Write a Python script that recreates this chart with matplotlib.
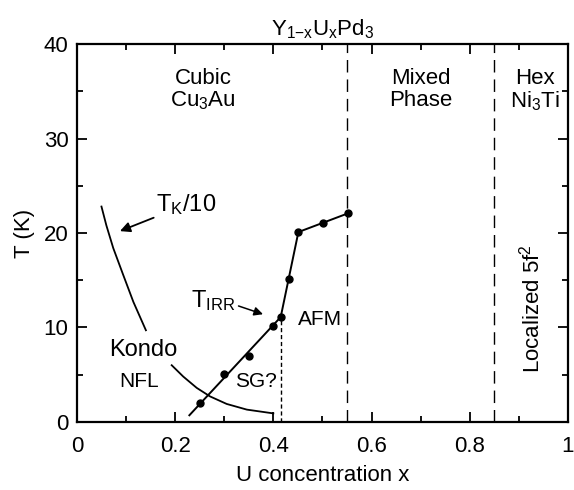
import matplotlib
matplotlib.use("Agg")
import matplotlib.pyplot as plt
from matplotlib.ticker import MultipleLocator

plt.rcParams['font.family'] = ['Liberation Sans', 'DejaVu Sans']
plt.rcParams['mathtext.fontset'] = 'custom'
plt.rcParams['mathtext.rm'] = 'Liberation Sans'
plt.rcParams['mathtext.it'] = 'Liberation Sans'

# T_IRR data points
x_irr = [0.25, 0.30, 0.35, 0.40, 0.415, 0.431, 0.451, 0.502, 0.553]
t_irr = [2.0, 5.1, 7.0, 10.1, 11.1, 15.1, 20.1, 21.1, 22.1]

# guide line through the points (extended below the first point)
x_line = [0.229, 0.415, 0.431, 0.451, 0.502, 0.553]
t_line = [0.7, 11.1, 15.1, 20.1, 21.1, 22.1]

# T_K/10 curve (upper and lower segments, broken by the "Kondo" label)
x_tk_hi = [0.050, 0.060, 0.074, 0.094, 0.115, 0.1405]
t_tk_hi = [22.8, 20.8, 18.4, 15.6, 12.7, 9.7]
x_tk_lo = [0.193, 0.2165, 0.244, 0.271, 0.305, 0.346, 0.40]
t_tk_lo = [6.0, 4.8, 3.6, 2.7, 1.9, 1.3, 0.9]

# phase boundaries
x_sg = 0.415
t_sg = 11.1
x_bounds = [0.55, 0.85]

fig = plt.figure(figsize=(5.74, 4.9), dpi=100)
ax = fig.add_axes([0.134, 0.139, 0.8555, 0.771])

ax.plot(x_line, t_line, color='black', lw=1.4)
ax.plot(x_irr, t_irr, 'o', color='black', ms=5)
ax.plot(x_tk_hi, t_tk_hi, color='black', lw=1.3)
ax.plot(x_tk_lo, t_tk_lo, color='black', lw=1.3)

ax.plot([x_sg, x_sg], [0, t_sg], color='black', lw=1.0, dashes=(3, 2))
for xb in x_bounds:
    ax.axvline(xb, color='black', lw=1.0, dashes=(9, 5))

fs = 16
ax.text(0.257, 36.4, 'Cubic', ha='center', va='center', fontsize=fs)
ax.text(0.257, 34.0, 'Cu$_3$Au', ha='center', va='center', fontsize=fs)
ax.text(0.70, 36.4, 'Mixed', ha='center', va='center', fontsize=fs)
ax.text(0.70, 34.0, 'Phase', ha='center', va='center', fontsize=fs)
ax.text(0.932, 36.4, 'Hex', ha='center', va='center', fontsize=fs)
ax.text(0.932, 34.0, 'Ni$_3$Ti', ha='center', va='center', fontsize=fs)
ax.text(0.926, 12.0, 'Localized 5f$^2$', ha='center', va='center',
        rotation=90, fontsize=fs)

ax.text(0.136, 7.6, 'Kondo', ha='center', va='center', fontsize=17)
ax.text(0.126, 4.3, 'NFL', ha='center', va='center', fontsize=15)
ax.text(0.365, 4.3, 'SG?', ha='center', va='center', fontsize=15)
ax.text(0.495, 10.8, 'AFM', ha='center', va='center', fontsize=15)

ax.annotate('T$_\\mathrm{K}$/10', xy=(0.0876, 20.2), xytext=(0.162, 23.0),
            ha='left', va='center', fontsize=17,
            arrowprops=dict(arrowstyle='-|>', color='black', lw=1.3,
                            mutation_scale=15, shrinkA=0, shrinkB=0))
ax.annotate('T$_\\mathrm{IRR}$', xy=(0.379, 11.4), xytext=(0.233, 12.9),
            ha='left', va='center', fontsize=17,
            arrowprops=dict(arrowstyle='-|>', color='black', lw=1.1,
                            mutation_scale=13, shrinkA=0, shrinkB=0,
                            relpos=(1.0, 0.3)))

ax.set_xlim(0, 1)
ax.set_ylim(0, 40)
ax.xaxis.set_major_locator(MultipleLocator(0.2))
ax.xaxis.set_minor_locator(MultipleLocator(0.1))
ax.yaxis.set_major_locator(MultipleLocator(10))
ax.yaxis.set_minor_locator(MultipleLocator(5))
ax.set_xticks([0, 0.2, 0.4, 0.6, 0.8, 1.0])
ax.set_xticklabels(['0', '0.2', '0.4', '0.6', '0.8', '1'])
ax.tick_params(which='both', direction='in', top=True, right=True,
               labelsize=fs, width=1.3)
ax.tick_params(which='major', length=7)
ax.tick_params(axis='x', which='major', pad=10)
ax.tick_params(axis='y', which='major', pad=6)
ax.tick_params(which='minor', length=4)
for s in ax.spines.values():
    s.set_linewidth(1.6)

ax.set_xlabel('U concentration x', fontsize=fs, labelpad=6)
ax.set_ylabel('T (K)', fontsize=fs, labelpad=6)
ax.set_title('Y$_{1\\mathrm{-x}}$U$_\\mathrm{x}$Pd$_3$', fontsize=fs, pad=6)

fig.savefig('out.png', dpi=100)
